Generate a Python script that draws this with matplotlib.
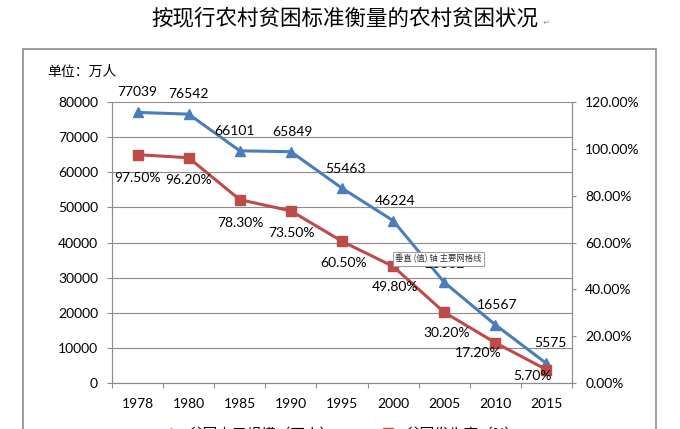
import matplotlib.pyplot as plt
from matplotlib.patches import Rectangle
from matplotlib.lines import Line2D

plt.rcParams['font.family'] = ['Lato', 'Noto Sans CJK SC', 'DejaVu Sans']

years = ['1978', '1980', '1985', '1990', '1995', '2000', '2005', '2010', '2015']
poor_pop = [77039, 76542, 66101, 65849, 55463, 46224, 28662, 16567, 5575]   # 万人
poor_rate = [97.5, 96.2, 78.3, 73.5, 60.5, 49.8, 30.2, 17.2, 5.7]          # %

blue = '#4A7EBB'
red = '#BE4B48'
gray = '#8C8C8C'

# label offsets in pixels (dx, dy)
blue_off = [(0, 20), (0, 20), (-5, 20), (2, 20), (3, 19), (2, 20), (0, 18), (2, 20), (4, 20)]
red_off = [(0, -23), (0, -22), (1, -23), (1, -22), (2, -22), (2, -21), (2, -21), (-17, -10), (-14, -6)]

fig = plt.figure(figsize=(6.8, 4.29), dpi=100)
ax = fig.add_axes([112 / 680, 46 / 429, 460 / 680, 281 / 429])
ax2 = ax.twinx()

x = list(range(len(years)))
ax.plot(x, poor_pop, color=blue, lw=2.2, marker='^', ms=7, label='贫困人口规模（万人）')
ax2.plot(x, poor_rate, color=red, lw=2.2, marker='s', ms=6.5, label='贫困发生率（%）')

ax.set_xlim(-0.5, 8.5)
ax.set_ylim(0, 80000)
ax2.set_ylim(0, 120)

ax.set_yticks(range(0, 80001, 10000))
ax.set_yticklabels([str(v) for v in range(0, 80001, 10000)])
ax2.set_yticks(range(0, 121, 20))
ax2.set_yticklabels([f'{v:.2f}%' for v in range(0, 121, 20)])

ax.set_xticks(x, years)
ax.set_xticks([i - 0.5 for i in range(len(years) + 1)], minor=True)
ax.tick_params(axis='x', which='major', length=0, pad=11, labelsize=10)
ax.tick_params(axis='x', which='minor', length=3.6, color=gray, width=0.8)
ax.tick_params(axis='y', length=3.6, color=gray, width=0.8, pad=6.5, labelsize=10)
ax2.tick_params(axis='y', length=3, color=gray, width=0.8, pad=6.5, labelsize=10)

ax.grid(axis='y', color=gray, lw=0.8)
ax.set_axisbelow(True)
for a in (ax, ax2):
    a.spines['top'].set_visible(False)
    for s in ('left', 'right', 'bottom'):
        a.spines[s].set_color(gray)
        a.spines[s].set_linewidth(0.8)

for i, v in enumerate(poor_pop):
    ax.annotate(str(v), (x[i], v), xytext=blue_off[i], textcoords='offset pixels',
                ha='center', va='center', fontsize=10)
for i, v in enumerate(poor_rate):
    ax2.annotate(f'{v:.2f}%', (x[i], v), xytext=red_off[i], textcoords='offset pixels',
                 ha='center', va='center', fontsize=10)

# chart frame
fig.add_artist(Rectangle((23 / 680, -0.1), (656 - 23) / 680, (429 - 49) / 429 + 0.1,
                         transform=fig.transFigure, fill=False, edgecolor=gray, lw=1.2))

fig.text(345 / 680, 1 - 18 / 429, '按现行农村贫困标准衡量的农村贫困状况',
         ha='center', va='center', fontsize=15.5, family=['Noto Sans CJK SC'])
fig.text(543 / 680, 1 - 22 / 429, '↵', ha='left', va='center', fontsize=6, color='#999999',
         family=['DejaVu Sans'])
fig.text(47 / 680, 1 - 72 / 429, '单位：万人', ha='left', va='center', fontsize=10,
         family=['Noto Sans CJK SC'])

# tooltip left over from the screenshot
fig.text(395 / 680, 1 - 259 / 429, '垂直 (值) 轴 主要网格线', ha='left', va='center',
         fontsize=6, color='#333333', family=['Noto Sans CJK SC'], zorder=10,
         bbox=dict(boxstyle='square,pad=0.3', facecolor='white', edgecolor='#A0A0A0', lw=0.8))

handles = [Line2D([], [], color=blue, lw=2.2, marker='^', ms=7),
           Line2D([], [], color=red, lw=2.2, marker='s', ms=6.5)]
fig.legend(handles, ['贫困人口规模（万人）', '贫困发生率（%）'], loc='center',
           bbox_to_anchor=(340 / 680, -0.012), ncol=2, frameon=False, fontsize=10.5,
           handlelength=1.4, handletextpad=0.5, columnspacing=3.0)

fig.savefig('out.png', dpi=100)
